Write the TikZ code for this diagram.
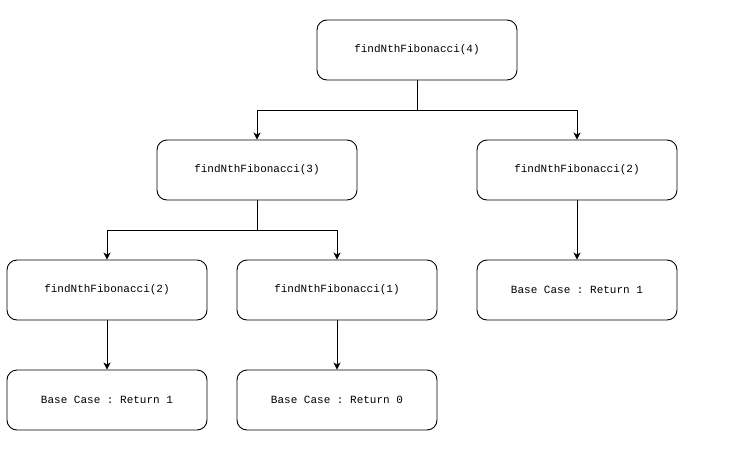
\documentclass[tikz,border=0pt]{standalone}
\usepackage{fontspec}
\setmonofont{Liberation Mono}
\usetikzlibrary{arrows.meta}

\begin{document}
\begin{tikzpicture}[x=1pt, y=-1pt,
		call/.style={draw, rounded corners=10pt, line width=0.9pt, minimum width=200pt, minimum height=60pt, font=\fontsize{11}{13}\selectfont\ttfamily},
		link/.style={line width=0.9pt, -{Stealth[length=7pt, width=7pt, inset=2pt]}}]
		\useasboundingbox (0,0) rectangle (749,455);
		\node[call] (fib4) at (417,50) {findNthFibonacci(4)};
		\node[call] (fib3) at (257,170) {findNthFibonacci(3)};
		\node[call] (fib2r) at (577,170) {findNthFibonacci(2)};
		\node[call] (fib2l) at (107,290) {findNthFibonacci(2)};
		\node[call] (fib1) at (337,290) {findNthFibonacci(1)};
		\node[call] (base1r) at (577,290) {Base Case : Return 1};
		\node[call] (base1l) at (107,400) {Base Case : Return 1};
		\node[call] (base0) at (337,400) {Base Case : Return 0};
		\coordinate (split4) at (417,110);
		\coordinate (split3) at (257,230);
		\draw[line width=0.9pt] (fib4.south) -- (split4);
		\draw[link] (split4) -| (fib3.north);
		\draw[link] (split4) -| (fib2r.north);
		\draw[line width=0.9pt] (fib3.south) -- (split3);
		\draw[link] (split3) -| (fib2l.north);
		\draw[link] (split3) -| (fib1.north);
		\draw[link] (fib2r) -- (base1r);
		\draw[link] (fib2l) -- (base1l);
		\draw[link] (fib1) -- (base0);
	\end{tikzpicture}
\end{document}
